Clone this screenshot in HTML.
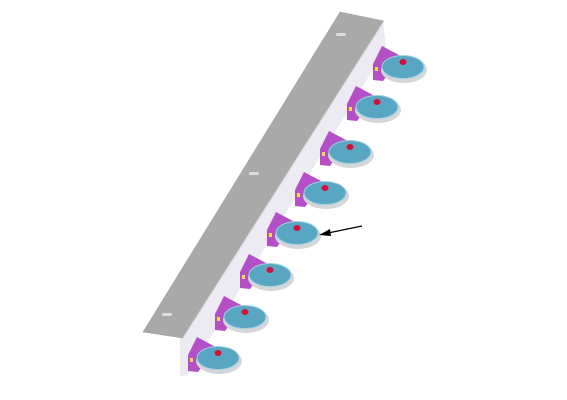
<!DOCTYPE html>
<html><head><meta charset="utf-8"><style>
html,body{margin:0;padding:0;background:#fff;width:567px;height:400px;overflow:hidden}
svg{display:block}
</style></head><body>
<svg id="scene" width="567" height="400" viewBox="0 0 567 400" xmlns="http://www.w3.org/2000/svg">
  <polygon points="383,22 386,48 187,376 180,376 180,338" fill="#ecebf4"/>
  <polygon points="340,12 384,21 183,338 143,332" fill="#a9a9a9" stroke="#9a9a9a" stroke-width="0.5"/>
  <line x1="384" y1="21" x2="183" y2="338" stroke="#d8d8d8" stroke-width="1"/>
  <rect x="336" y="33" width="10" height="3" rx="1.5" fill="#ddd"/>
  <rect x="249" y="172" width="10" height="3" rx="1.5" fill="#ddd"/>
  <rect x="162" y="313" width="10" height="3" rx="1.5" fill="#ddd"/>
  <g id="casters"></g>
  <line x1="362" y1="226" x2="328" y2="233" stroke="#000" stroke-width="1.2"/>
  <polygon points="319,235 330,229 331,236" fill="#000"/>
</svg>
<script>
const casterX = [403, 377, 350, 325, 297, 270, 245, 218];
const casterY = [67, 107, 152, 193, 233, 275, 317, 358];
const ns = "http://www.w3.org/2000/svg";
const g = document.getElementById('casters');
function mk(tag, attrs, parent){
  const e = document.createElementNS(ns, tag);
  for (const k in attrs) e.setAttribute(k, attrs[k]);
  parent.appendChild(e);
  return e;
}
casterX.forEach((cx, i) => {
  const cy = casterY[i];
  const grp = mk('g', {}, g);
  
  
  const br = mk('polygon', {points: `${cx-21},${cy-21} ${cx-4},${cy-12} ${cx+4},${cy-6} ${cx-14},${cy+6} ${cx-20},${cy+14} ${cx-30},${cy+13} ${cx-30},${cy-3}`, fill: '#b54fc6'}, grp);
  
  
  const sh = mk('ellipse', {cx: cx + 1, cy: cy + 3, rx: 23, ry: 13, fill: '#d4d6da'}, grp);
  
  
  const w = mk('ellipse', {cx: cx, cy: cy, rx: 21, ry: 11.5, fill: '#58a6c2', stroke: '#9fd2e2', 'stroke-width': 1}, grp);
  
  
  const y = mk('rect', {x: cx - 28, y: cy, width: 3, height: 4, fill: '#f2e04a'}, grp);
  
  
  const h = mk('ellipse', {cx: cx, cy: cy - 5, rx: 3.5, ry: 3, fill: '#d0103a'}, grp);
  
  
});
</script>
</body></html>
